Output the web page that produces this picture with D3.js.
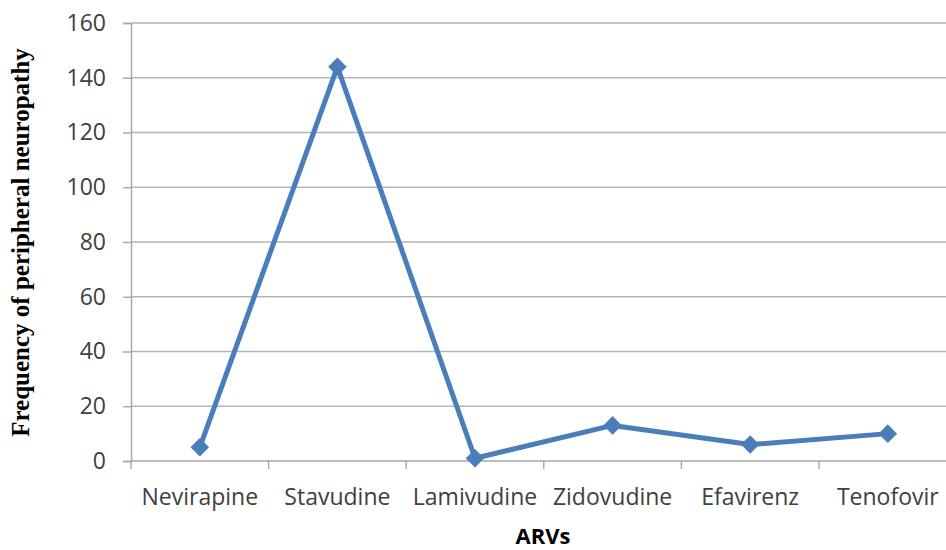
<!DOCTYPE html>
<html>
<head>
<meta charset="utf-8">
<script src="https://cdn.jsdelivr.net/npm/d3@7"></script>
<style>
  html, body { margin: 0; padding: 0; background: #fff; }
  svg { display: block; }
</style>
</head>
<body>
<svg id="chart" width="946" height="550"></svg>
<script>
// Antiretroviral drugs and the number of peripheral neuropathy cases for each
const drugs = ["Nevirapine", "Stavudine", "Lamivudine", "Zidovudine", "Efavirenz", "Tenofovir"];
const frequency = [5, 144, 1, 13, 6, 10];
const yTicks = [0, 20, 40, 60, 80, 100, 120, 140, 160];

const svg = d3.select("#chart");
const plotLeft = 131, plotTop = 23, plotBottom = 461;
const band = 137.6;
const labelFont = "'Open Sans', Lato, sans-serif";

const x = d3.scaleBand()
  .domain(drugs)
  .range([plotLeft, plotLeft + band * drugs.length])
  .paddingInner(0).paddingOuter(0);

const y = d3.scaleLinear().domain([0, 160]).range([plotBottom, plotTop]);

// horizontal gridlines
svg.append("g")
  .selectAll("line")
  .data(yTicks.filter(d => d > 0))
  .join("line")
  .attr("x1", plotLeft).attr("x2", 946)
  .attr("y1", d => y(d)).attr("y2", d => y(d))
  .attr("stroke", "#b5b5b5").attr("stroke-width", 1.4);

// y axis
const yAxis = svg.append("g")
  .attr("transform", `translate(${plotLeft},0)`)
  .call(d3.axisLeft(y).tickValues(yTicks).tickSize(8).tickPadding(17));
yAxis.select(".domain").attr("stroke", "#a6a6a6").attr("stroke-width", 1.4);
yAxis.selectAll(".tick line").attr("stroke", "#a6a6a6").attr("stroke-width", 1.4);
yAxis.selectAll(".tick text")
  .attr("fill", "#404040")
  .style("font-family", labelFont)
  .style("font-size", "23px");

// x axis with tick marks on the category boundaries
const xAxisG = svg.append("g").attr("transform", `translate(0,${plotBottom})`);
xAxisG.append("line")
  .attr("x1", plotLeft).attr("x2", 946)
  .attr("stroke", "#a6a6a6").attr("stroke-width", 1.4);
xAxisG.selectAll("line.tick")
  .data(drugs.map(d => x(d)).concat([plotLeft + band * drugs.length]))
  .join("line")
  .attr("class", "tick")
  .attr("x1", d => d).attr("x2", d => d)
  .attr("y1", 0).attr("y2", 8)
  .attr("stroke", "#a6a6a6").attr("stroke-width", 1.4);
xAxisG.selectAll("text")
  .data(drugs)
  .join("text")
  .attr("x", d => x(d) + x.bandwidth() / 2)
  .attr("y", 44)
  .attr("text-anchor", "middle")
  .attr("fill", "#404040")
  .style("font-family", labelFont)
  .style("font-size", "23px")
  .text(d => d);

// series line
const cx = d => x(d) + x.bandwidth() / 2;
const line = d3.line()
  .x((d, i) => cx(drugs[i]))
  .y(d => y(d));

svg.append("path")
  .datum(frequency)
  .attr("d", line)
  .attr("fill", "none")
  .attr("stroke", "#4a7ebb")
  .attr("stroke-width", 5)
  .attr("stroke-linejoin", "round");

// diamond markers
svg.append("g")
  .selectAll("path")
  .data(frequency)
  .join("path")
  .attr("transform", (d, i) => `translate(${cx(drugs[i])},${y(d)})`)
  .attr("d", d3.symbol().type(d3.symbolDiamond2).size(220))
  .attr("fill", "#4a7ebb");

// axis titles
svg.append("text")
  .attr("transform", `translate(29,${(45 + 440) / 2}) rotate(-90)`)
  .attr("text-anchor", "middle")
  .attr("fill", "#000")
  .style("font-family", "'Liberation Serif', 'DejaVu Serif', serif")
  .style("font-weight", "bold")
  .style("font-size", "25px")
  .text("Frequency of peripheral neuropathy");

svg.append("text")
  .attr("x", 543)
  .attr("y", 544)
  .attr("text-anchor", "middle")
  .attr("fill", "#000")
  .style("font-family", labelFont)
  .style("font-weight", "bold")
  .style("font-size", "22px")
  .text("ARVs");
</script>
</body>
</html>
